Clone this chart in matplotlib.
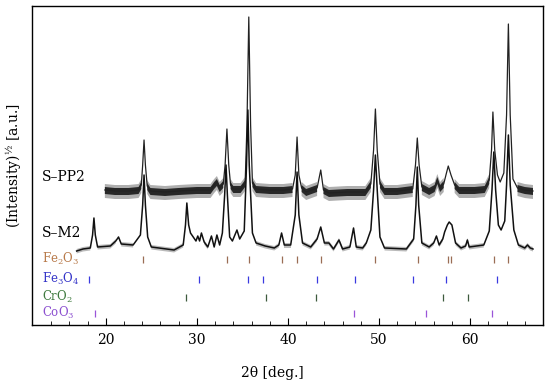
import numpy as np
import matplotlib
matplotlib.use("Agg")
from matplotlib import pyplot as plt

plt.rcParams['font.family'] = ['DejaVu Serif']
plt.rcParams['mathtext.fontset'] = 'dejavuserif'

# S-PP2 pattern (upper trace), 2theta [deg] vs intensity [a.u.]
pp2_x = [19.9, 21.0, 22.5, 23.6, 23.9, 24.05, 24.2, 24.35, 24.55, 24.9, 26.5, 28.0, 30.0, 31.5, 31.9, 32.2, 32.5,
         32.9, 33.1, 33.3, 33.5, 33.7, 34.0, 34.8, 35.3, 35.5, 35.7, 35.9, 36.1, 36.5, 38.0, 39.5, 40.5, 40.8,
         41.0, 41.2, 41.5, 42.0, 43.2, 43.6, 43.9, 44.5, 46.5, 48.5, 49.1, 49.4, 49.6, 49.8, 50.1, 50.6, 52.0,
         53.7, 54.0, 54.2, 54.4, 54.7, 55.5, 56.1, 56.4, 56.7, 57.1, 57.4, 57.6, 57.9, 58.3, 58.8, 60.5, 61.6,
         62.1, 62.35, 62.5, 62.7, 63.0, 63.3, 63.7, 64.0, 64.2, 64.4, 64.7, 65.2, 66.0, 66.9]
pp2_y = [135, 134, 134, 135, 140, 160, 185, 160, 139, 134, 133, 134, 135, 135, 140, 143, 137,
         141, 160, 196, 160, 140, 136, 136, 142, 200, 308, 200, 142, 136, 135, 135, 136, 150,
         188, 150, 137, 133, 137, 155, 135, 132, 133, 133, 141, 175, 216, 175, 141, 134, 134,
         136, 160, 187, 160, 138, 134, 137, 145, 137, 141, 152, 159, 150, 140, 135, 135, 136,
         145, 175, 213, 175, 150, 143, 152, 210, 301, 210, 146, 137, 135, 134]

# S-M2 pattern (lower trace)
m2_x = [16.8, 17.5, 18.3, 18.55, 18.7, 18.85, 19.1, 20.5, 21.1, 21.4, 21.7, 23.0, 23.8, 24.05, 24.2, 24.35,
        24.6, 25.0, 27.5, 28.5, 28.75, 28.9, 29.1, 29.3, 29.6, 29.9, 30.1, 30.3, 30.5, 30.8, 31.2, 31.6, 31.9,
        32.2, 32.5, 32.8, 33.05, 33.2, 33.35, 33.6, 33.9, 34.4, 34.7, 35.2, 35.45, 35.6, 35.75, 36.1, 36.5,
        37.5, 38.5, 39.0, 39.3, 39.6, 40.3, 40.8, 41.0, 41.2, 41.6, 42.5, 43.2, 43.6, 44.0, 44.5, 45.0, 45.6,
        46.0, 46.8, 47.2, 47.5, 48.2, 48.6, 49.1, 49.4, 49.6, 49.8, 50.1, 50.6, 53.0, 53.8, 54.05, 54.2,
        54.35, 54.7, 55.5, 56.0, 56.3, 56.6, 57.0, 57.2, 57.5, 57.7, 58.0, 58.4, 59.0, 59.5, 59.7, 59.9, 61.5,
        62.1, 62.4, 62.6, 62.8, 63.1, 63.4, 63.8, 64.0, 64.2, 64.4, 64.8, 65.3, 66.0, 66.3, 66.6, 66.9]
m2_y = [74, 76, 77, 90, 107, 90, 78, 79, 84, 88, 81, 80, 90, 120, 150, 120,
        88, 78, 75, 80, 100, 122, 100, 92, 88, 84, 89, 84, 92, 83, 78, 89, 78,
        90, 80, 92, 130, 160, 130, 88, 84, 95, 86, 94, 160, 215, 160, 92, 82,
        79, 77, 80, 92, 80, 80, 110, 153, 110, 82, 78, 86, 98, 82, 82, 76, 85,
        76, 78, 97, 78, 77, 82, 95, 135, 170, 135, 88, 77, 76, 86, 120, 158,
        120, 82, 78, 82, 89, 80, 86, 93, 100, 103, 100, 82, 77, 79, 85, 78, 80,
        94, 135, 173, 135, 100, 95, 104, 140, 190, 140, 95, 80, 77, 80, 77, 76]

pp2_base = 135
m2_base = 78

# reference peak positions [deg]
phases = ['Fe$_2$O$_3$', 'Fe$_3$O$_4$', 'CrO$_2$', 'CoO$_3$']
fe2o3_pos = [24.1, 33.3, 35.7, 39.3, 41.0, 43.6, 49.6, 54.3, 57.6, 57.9, 62.6, 64.2]
fe3o4_pos = [18.2, 30.2, 35.6, 37.3, 43.2, 47.4, 53.7, 57.3, 63.0]
cro2_pos = [28.8, 37.6, 43.1, 57.0, 59.8]
coo3_pos = [18.8, 47.3, 55.2, 62.4]
row_y = [66, 46, 28, 12]

label_colors = ['#b87a4a', '#3434c8', '#3f7a3f', '#8c50d0']
tick_colors = ['#9a6d55', '#3a3ae0', '#3d5a3d', '#9a55d8']

fig = plt.figure(figsize=(5.5, 3.85), dpi=100)
ax = fig.add_axes([32 / 550, 60 / 385, 511 / 550, 319 / 385])

# noisy baseline drawn as a fuzzy band, peaks as a thin line
x = np.array(pp2_x)
y = np.array(pp2_y)
flat = y <= pp2_base + 10
ax.fill_between(x, y - 8, y + 6, where=flat, color='#1c1c1c', lw=0, alpha=0.35)
ax.fill_between(x, y - 4, y + 3, where=flat, color='#111111', lw=0, alpha=0.85)
ax.plot(x, y, color='#222222', lw=0.9)

x = np.array(m2_x)
y = np.array(m2_y)
flat = y <= m2_base + 8
ax.fill_between(x, y - 2.5, y + 2, where=flat, color='#1c1c1c', lw=0, alpha=0.3)
ax.plot(x, y, color='#111111', lw=1.1)

for pos, yy, col in zip([fe2o3_pos, fe3o4_pos, cro2_pos, coo3_pos], row_y, tick_colors):
    ax.vlines(pos, yy - 3.5, yy + 3.5, color=col, lw=0.9)

for name, yy, col in zip(phases, row_y, label_colors):
    ax.text(0.02, yy, name, color=col, fontsize=8.5, va='center', ha='left',
            transform=ax.get_yaxis_transform())

ax.text(0.02, 148, 'S–PP2', fontsize=10, va='center', ha='left', transform=ax.get_yaxis_transform())
ax.text(0.02, 92, 'S–M2', fontsize=10, va='center', ha='left', transform=ax.get_yaxis_transform())

ax.set_xlim(11.9, 68.0)
ax.set_ylim(0, 319)
ax.set_yticks([])
ax.set_xticks([20, 30, 40, 50, 60])
ax.set_xticks(np.arange(14, 68, 2), minor=True)
ax.tick_params(axis='x', which='major', direction='in', length=5, width=0.8, labelsize=10, pad=6)
ax.tick_params(axis='x', which='minor', direction='in', length=3, width=0.6)
for s in ax.spines.values():
    s.set_linewidth(1.0)

ax.set_xlabel('2θ [deg.]', fontsize=10, labelpad=4)
ax.xaxis.set_label_coords(0.47, -0.13)
ax.set_ylabel(r'(Intensity)$^{\mathrm{½}}$ [a.u.]', fontsize=10, labelpad=6)

fig.savefig('out.png', dpi=100)
